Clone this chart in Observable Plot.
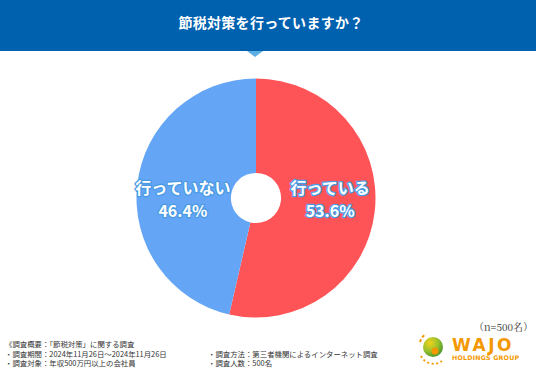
<!DOCTYPE html>
<html>
<head>
<meta charset="utf-8">
<script src="https://cdn.jsdelivr.net/npm/d3@7"></script>
<script src="https://cdn.jsdelivr.net/npm/@observablehq/plot@0.6"></script>
<style>
  html, body { margin: 0; padding: 0; background: #fff; }
  #wrap { position: relative; width: 536px; height: 371px; overflow: hidden; font-family: "Noto Sans CJK JP", "Noto Sans", sans-serif; }
  #header { position: absolute; left: 0; top: 0; width: 536px; height: 51px; background: #0061AF; color: #fff;
    font-weight: bold; font-size: 14px; line-height: 45px; text-align: center; letter-spacing: 0.3px; }
  #header span { position: relative; left: 3px; }
  #tri { position: absolute; left: 247px; top: 51px; width: 0; height: 0;
    border-left: 8px solid transparent; border-right: 8px solid transparent; border-top: 6px solid #5DAEE3; }
  #chart { position: absolute; left: 0; top: 51px; }
  .foot { position: absolute; font-size: 7.4px; color: #333; white-space: nowrap; line-height: 9px; }
  #n { position: absolute; left: 474px; top: 319px; font-size: 10px; color: #333; font-family: "Noto Serif CJK JP", "Noto Sans CJK JP", serif; }
  #logo { position: absolute; left: 412px; top: 331px; }
</style>
</head>
<body>
<div id="wrap">
  <div id="header"><span>節税対策を行っていますか？</span></div>
  <div id="tri"></div>
  <div id="chart"></div>
  <div class="foot" style="left:5px; top:339px;">《調査概要：「節税対策」に関する調査</div>
  <div class="foot" style="left:5px; top:348.5px;">・調査期間：2024年11月26日～2024年11月26日</div>
  <div class="foot" style="left:5px; top:358px;">・調査対象：年収500万円以上の会社員</div>
  <div class="foot" style="left:208px; top:348.5px;">・調査方法：第三者機関によるインターネット調査</div>
  <div class="foot" style="left:208px; top:358px;">・調査人数：500名</div>
  <div id="n">（n=500名）</div>
  <svg id="logo" width="120" height="38" viewBox="0 0 120 38">
    <defs>
      <radialGradient id="ball" cx="0.35" cy="0.3" r="0.8">
        <stop offset="0" stop-color="#F2D21B"/>
        <stop offset="0.5" stop-color="#9CC22C"/>
        <stop offset="1" stop-color="#3F8F2A"/>
      </radialGradient>
    </defs>
    <circle cx="21" cy="16" r="10" fill="url(#ball)"/>
    <circle cx="23" cy="20" r="3.5" fill="#F39800"/>
    <path d="M8 11 A14 14 0 0 1 14 3" stroke="#F39800" stroke-width="2" fill="none" stroke-dasharray="3 2"/>
    <path d="M9 25 A14 14 0 0 0 30 30" stroke="#F39800" stroke-width="1.8" fill="none" stroke-dasharray="2 2.5"/>
    <text x="40" y="20" font-family="DejaVu Sans" font-weight="bold" font-size="17" fill="#F39800" letter-spacing="2.5">WAJO</text>
    <text x="40" y="29" font-family="DejaVu Sans" font-weight="bold" font-size="6.3" fill="#F39800" letter-spacing="0.2">HOLDINGS GROUP</text>
  </svg>
</div>
<script>
// ---- data ----
const categories = ["行っている", "行っていない"];
const values = [53.6, 46.4];
const colors = ["#FF5457", "#64A5F6"];

// ---- layout / style constants ----
const innerFrac = 0.21;
const labelFrac = 0.62;

const rows = categories.map((c, i) => ({category: c, value: values[i], color: colors[i]}));
const arcs = d3.pie().value(d => d.value).sort(null)(rows);
const labels = arcs.map(a => {
  const mid = (a.startAngle + a.endAngle) / 2;
  return {
    text: `${a.data.category}\n${a.data.value.toFixed(1)}%`,
    x: labelFrac * Math.sin(mid),
    y: 0
  };
});

function pieMark(index, scales) {
  const cx = scales.x(0), cy = scales.y(0);
  const r = Math.abs(scales.x(1) - scales.x(0));
  const arcGen = d3.arc().innerRadius(r * innerFrac).outerRadius(r);
  const g = d3.create("svg:g").attr("transform", `translate(${cx},${cy})`);
  g.selectAll("path").data(arcs).join("path")
    .attr("d", arcGen)
    .attr("fill", d => d.data.color);
  return g.node();
}

const chart = Plot.plot({
  width: 536,
  height: 270,
  marginLeft: 136.5,
  marginRight: 160.5,
  marginTop: 27.5,
  marginBottom: 3.5,
  x: {domain: [-1, 1], axis: null},
  y: {domain: [-1, 1], axis: null},
  style: {background: "transparent"},
  marks: [
    pieMark,
    Plot.text(labels, {
      x: "x", y: "y", text: "text",
      fill: "white", stroke: "#4A9BE3", strokeWidth: 2.6,
      fontSize: 16, fontWeight: "bold", lineHeight: 1.4,
      fontFamily: "Noto Sans CJK JP"
    })
  ]
});
document.getElementById("chart").appendChild(chart);
</script>
</body>
</html>
